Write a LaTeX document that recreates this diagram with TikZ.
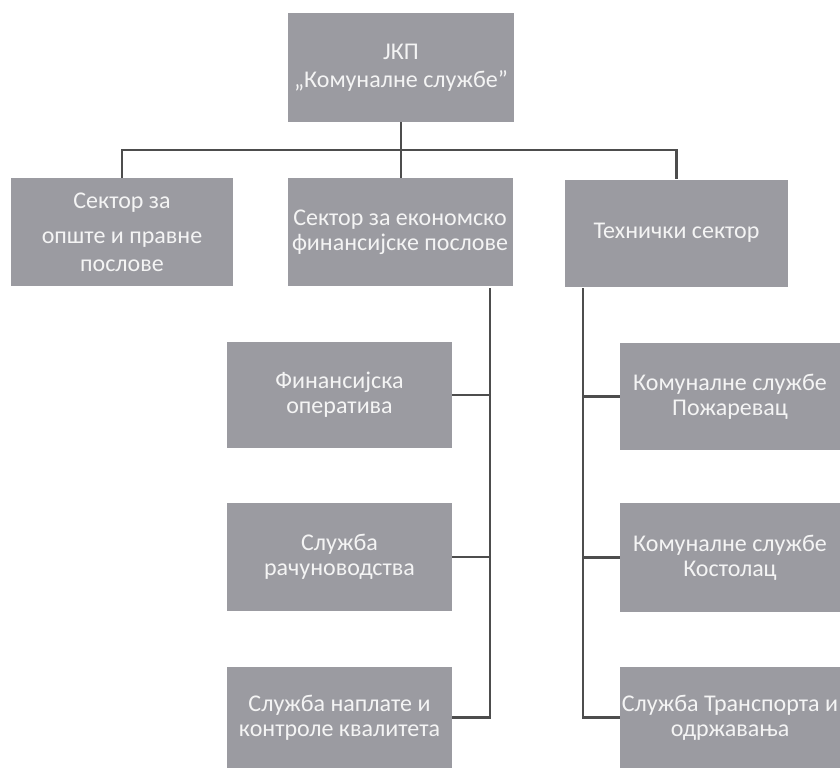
\documentclass[tikz,border=0pt]{standalone}
\usepackage{fontspec}
\setmainfont{Carlito}
\definecolor{boxgray}{HTML}{9B9BA1}
\definecolor{boxtext}{HTML}{F4F4F4}
\definecolor{linegray}{HTML}{4D4D4D}

\begin{document}
\begin{tikzpicture}[x=1pt, y=-1pt,
  unit/.style={fill=boxgray, text=boxtext, align=center, inner sep=0pt,
    minimum width=225pt, minimum height=108pt,
    font=\fontsize{24}{25}\selectfont},
  link/.style={draw=linegray, line width=2.5pt}]
  \useasboundingbox[fill=white] (0,0) rectangle (840,768);
  % Sizes
  \pgfmathsetmacro{\midcol}{339.5}
  \pgfmathsetmacro{\rightcol}{730}

  % boxes
  \node[unit, minimum width=226pt, minimum height=109pt] (top) at (401, 67.5)
    {ЈКП\\[3pt]„Комуналне службе”};

  \node[unit, minimum width=222pt] (secA) at (122, 232)
    {Сектор за\\[10pt]опште и правне\\[3pt]послове};
  \node[unit] (secB) at (400, 232)
    {Сектор за економско\\финансијске послове};
  \node[unit, minimum width=223pt, minimum height=107pt] (secC) at (676.5, 233)
    {Технички сектор};

  \node[unit, minimum height=106pt] (fin1) at (\midcol, 395)
    {Финансијска\\оператива};
  \node[unit] (fin2) at (\midcol, 557)
    {Служба\\рачуноводства};
  \node[unit, minimum height=101pt] (fin3) at (\midcol, 717.5)
    {Служба наплате и\\контроле квалитета};

  \node[unit, minimum width=220pt, minimum height=107pt] (teh1) at (\rightcol, 396.5)
    {Комуналне службе\\Пожаревац};
  \node[unit, minimum width=220pt, minimum height=109pt] (teh2) at (\rightcol, 557.5)
    {Комуналне службе\\Костолац};
  \node[unit, minimum width=220pt, minimum height=101pt] (teh3) at (\rightcol, 717.5)
    {Служба Транспорта и\\одржавања};

  % connectors
  \coordinate (bar) at (400, 150);
  \coordinate (ltrunk) at (490, 288);
  \coordinate (rtrunk) at (583, 288);

  \draw[link] (top.south) -- (top.south |- secB.north);
  \draw[link] (secA.north) |- (bar) -| (secC.north);

  \draw[link] (ltrunk) -- (ltrunk |- fin3.east) -- (fin3.east);
  \draw[link] (fin1.east) -- (fin1.east -| ltrunk);
  \draw[link] (fin2.east) -- (fin2.east -| ltrunk);

  \draw[link] (rtrunk) -- (rtrunk |- teh3.west) -- (teh3.west);
  \draw[link] (teh1.west) -- (teh1.west -| rtrunk);
  \draw[link] (teh2.west) -- (teh2.west -| rtrunk);
\end{tikzpicture}
\end{document}
